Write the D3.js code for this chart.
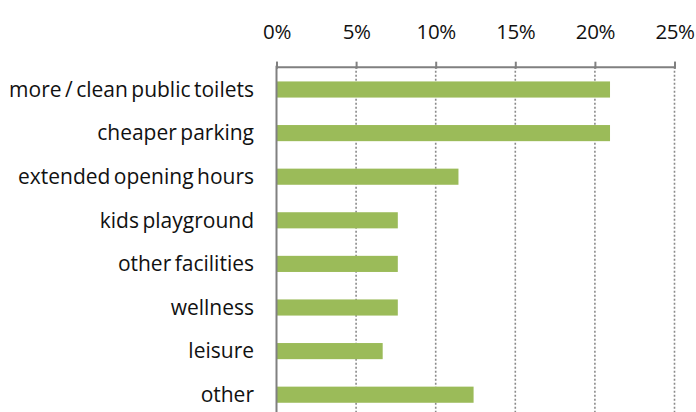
<!DOCTYPE html>
<html>
<head>
<meta charset="utf-8">
<script src="https://cdn.jsdelivr.net/npm/d3@7"></script>
<style>
  html, body { margin: 0; padding: 0; background: #fff; }
  svg { display: block; }
  text { font-family: "Open Sans", "Lato", sans-serif; fill: #111; }
</style>
</head>
<body>
<svg id="chart" width="696" height="412"></svg>
<script>
// Survey answers: share of respondents per suggested improvement
const categories = [
  "more / clean public toilets",
  "cheaper parking",
  "extended opening hours",
  "kids playground",
  "other facilities",
  "wellness",
  "leisure",
  "other"
];
const shares = [20.95, 20.95, 11.43, 7.62, 7.62, 7.62, 6.67, 12.38];
const tickValues = [0, 5, 10, 15, 20, 25];

const svg = d3.select("#chart");
const left = 276.5, right = 674.5, axisY = 66.7, bottom = 416.5;

const x = d3.scaleLinear().domain([0, 25]).range([left, right]);
const y = d3.scaleBand().domain(categories).range([axisY + 1, bottom])
  .paddingInner(0.63).paddingOuter(0.315);

// dotted vertical gridlines
svg.append("g").selectAll("line")
  .data(tickValues.filter(d => d > 0))
  .join("line")
  .attr("x1", d => x(d)).attr("x2", d => x(d))
  .attr("y1", axisY).attr("y2", 412)
  .attr("stroke", "#8a8a8a").attr("stroke-width", 1.6)
  .attr("stroke-dasharray", "2,2");

// bars
svg.append("g").selectAll("rect")
  .data(categories)
  .join("rect")
  .attr("x", x(0))
  .attr("y", d => y(d))
  .attr("width", (d, i) => x(shares[i]) - x(0))
  .attr("height", y.bandwidth())
  .attr("fill", "#9bbb59");

// top axis
const xAxis = d3.axisTop(x).tickValues(tickValues)
  .tickFormat(d => d + "%").tickSize(5).tickPadding(23);
const gx = svg.append("g").attr("transform", `translate(0,${axisY})`).call(xAxis);
gx.select(".domain").attr("stroke", "#808080").attr("stroke-width", 2);
gx.selectAll(".tick line").attr("stroke", "#808080").attr("stroke-width", 2)
  .attr("y2", -5).attr("y1", 2);
gx.selectAll(".tick text").attr("font-size", 20.5).attr("fill", "#111")
  .attr("letter-spacing", -0.4)
  .style("font-family", "'Open Sans', Lato, sans-serif");

// left axis line
svg.append("line")
  .attr("x1", left).attr("x2", left)
  .attr("y1", axisY - 1).attr("y2", 412)
  .attr("stroke", "#808080").attr("stroke-width", 2);

// category labels
svg.append("g").selectAll("text")
  .data(categories)
  .join("text")
  .attr("x", 254)
  .attr("y", d => y(d) + y.bandwidth() / 2)
  .attr("dy", "0.35em")
  .attr("text-anchor", "end")
  .attr("font-size", 21)
  .attr("word-spacing", -2)
  .text(d => d);
</script>
</body>
</html>
